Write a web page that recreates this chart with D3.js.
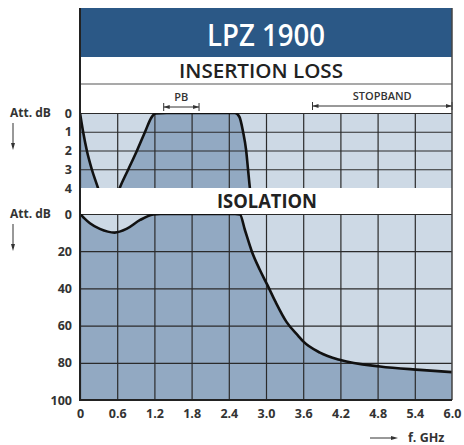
<!DOCTYPE html>
<html>
<head>
<meta charset="utf-8">
<script src="https://cdn.jsdelivr.net/npm/d3@7"></script>
<style>
  body { margin: 0; background: #fff; }
  text { font-family: "Open Sans", "DejaVu Sans", sans-serif; }
</style>
</head>
<body>
<div id="chart"></div>
<script>
// chart values
const freqTicks = [0, 0.6, 1.2, 1.8, 2.4, 3.0, 3.6, 4.2, 4.8, 5.4, 6.0];
const ilTicks = [0, 1, 2, 3, 4];
const isoTicks = [0, 20, 40, 60, 80, 100];

// insertion loss curve (dB), values past 4 are clipped
const ilFreq = [0, 0.05, 0.11, 0.19, 0.29, 0.4, 0.5, 0.64, 0.78, 0.92, 1.05, 1.15, 1.22, 1.4, 2.0, 2.5, 2.57, 2.63, 2.68, 2.71, 2.74, 2.8];
const ilLoss = [0, 1, 2, 3, 4, 5.2, 5.3, 4, 3, 2, 1, 0.25, 0.02, 0, 0, 0, 0.2, 1, 2, 3, 4, 5];

// isolation curve (dB)
const isoFreq = [0, 0.06, 0.16, 0.32, 0.56, 0.75, 0.97, 1.18, 1.3, 2.0, 2.5, 2.58, 2.66, 2.77, 2.9, 3.02, 3.15, 3.33, 3.52, 3.6, 3.87, 4.2, 4.84, 5.48, 6.0];
const isoLoss = [0, 2, 5, 8, 10, 8, 3.2, 0.3, 0, 0, 0, 0.3, 8.6, 20, 30, 38, 47, 58, 65.5, 68.5, 74.5, 78.5, 82, 83.8, 85];

const passBand = [1.35, 1.92];
const stopBand = [3.75, 6.0];

const W = 464, H = 445;
const left = 80, right = 452;

const x = d3.scaleLinear().domain([0, 6]).range([left, right]);
const yIL = d3.scaleLinear().domain([0, 4]).range([113, 188]);
const yIso = d3.scaleLinear().domain([0, 100]).range([214, 400]);

const svg = d3.select('#chart').append('svg')
  .attr('width', W).attr('height', H);

const dark = '#2b2b2b';
const lightFill = '#cdd9e5';
const darkFill = '#92a9c2';

// title bar
svg.append('rect').attr('x', left).attr('y', 8).attr('width', right - left).attr('height', 49)
  .attr('fill', '#2b5886');
svg.append('text').attr('x', (left + right) / 2).attr('y', 46)
  .attr('text-anchor', 'middle').attr('fill', '#fff')
  .attr('font-size', 31).attr('font-weight', 600)
  .attr('textLength', 118).attr('lengthAdjust', 'spacingAndGlyphs')
  .text('LPZ 1900');

svg.append('line').attr('x1', left).attr('x2', right).attr('y1', 84).attr('y2', 84)
  .attr('stroke', '#555').attr('stroke-width', 1.2);
svg.append('text').attr('x', 261).attr('y', 78)
  .attr('text-anchor', 'middle').attr('fill', '#222')
  .attr('font-size', 19).attr('font-weight', 600)
  .attr('textLength', 164).attr('lengthAdjust', 'spacingAndGlyphs')
  .text('INSERTION LOSS');

// band arrows
function bandArrow(range, yPos, label) {
  const g = svg.append('g');
  const x0 = x(range[0]), x1 = x(range[1]);
  g.append('line').attr('x1', x0).attr('x2', x1).attr('y1', yPos).attr('y2', yPos)
    .attr('stroke', '#333').attr('stroke-width', 1);
  [x0, x1].forEach((px, i) => {
    g.append('line').attr('x1', px).attr('x2', px).attr('y1', yPos - 4).attr('y2', yPos + 4)
      .attr('stroke', '#333').attr('stroke-width', 1);
    const dir = i === 0 ? 1 : -1;
    g.append('path')
      .attr('d', `M${px},${yPos} L${px + dir * 6},${yPos - 2} L${px + dir * 6},${yPos + 2} Z`)
      .attr('fill', '#333');
  });
  g.append('text').attr('x', (x0 + x1) / 2).attr('y', yPos - 6)
    .attr('text-anchor', 'middle').attr('fill', '#333')
    .attr('font-size', 11).attr('font-weight', 600)
    .text(label);
}
bandArrow(passBand, 107, 'PB');
bandArrow(stopBand, 106, 'STOPBAND');

// plot panels
function panel(yScale, ticks, freqs, vals, id) {
  const y0 = yScale.range()[0], y1 = yScale.range()[1];
  svg.append('clipPath').attr('id', id)
    .append('rect').attr('x', left).attr('y', y0).attr('width', right - left).attr('height', y1 - y0);

  const g = svg.append('g').attr('clip-path', `url(#${id})`);
  g.append('rect').attr('x', left).attr('y', y0).attr('width', right - left).attr('height', y1 - y0)
    .attr('fill', lightFill);

  const pts = freqs.map((f, i) => [f, vals[i]]);
  const area = d3.area()
    .x(d => x(d[0]))
    .y0(y1)
    .y1(d => yScale(d[1]))
    .curve(d3.curveMonotoneX);
  g.append('path').datum(pts).attr('d', area).attr('fill', darkFill);

  // grid
  g.append('g').attr('transform', `translate(0,${y0})`)
    .call(d3.axisBottom(x).tickValues(freqTicks).tickSize(y1 - y0).tickFormat(''))
    .call(s => s.select('.domain').remove())
    .selectAll('line').attr('stroke', dark).attr('stroke-width', 1.2);
  g.append('g').attr('transform', `translate(${left},0)`)
    .call(d3.axisRight(yScale).tickValues(ticks).tickSize(right - left).tickFormat(''))
    .call(s => s.select('.domain').remove())
    .selectAll('line').attr('stroke', dark).attr('stroke-width', 1.2);

  const line = d3.line().x(d => x(d[0])).y(d => yScale(d[1])).curve(d3.curveMonotoneX);
  g.append('path').datum(pts).attr('d', line)
    .attr('fill', 'none').attr('stroke', '#111').attr('stroke-width', 2.6)
    .attr('stroke-linejoin', 'round');
}
panel(yIL, ilTicks, ilFreq, ilLoss, 'clipIL');
panel(yIso, isoTicks, isoFreq, isoLoss, 'clipIso');

svg.append('text').attr('x', 267).attr('y', 208)
  .attr('text-anchor', 'middle').attr('fill', '#222')
  .attr('font-size', 20).attr('font-weight', 700)
  .attr('textLength', 100).attr('lengthAdjust', 'spacingAndGlyphs')
  .text('ISOLATION');

// frame lines
svg.append('line').attr('x1', right).attr('x2', right).attr('y1', 8).attr('y2', 400)
  .attr('stroke', '#444').attr('stroke-width', 1.5);
svg.append('line').attr('x1', left).attr('x2', left).attr('y1', 8).attr('y2', 401)
  .attr('stroke', '#222').attr('stroke-width', 2);
svg.append('line').attr('x1', left).attr('x2', right).attr('y1', 400).attr('y2', 400)
  .attr('stroke', '#222').attr('stroke-width', 2);

// axes labels
function styleAxis(s) {
  s.select('.domain').remove();
  s.selectAll('text').attr('fill', '#333').attr('font-size', 12.5).attr('font-weight', 700)
    .style('font-family', '"Open Sans", sans-serif');
}
svg.append('g').attr('transform', `translate(${left},0)`)
  .call(d3.axisLeft(yIL).tickValues(ilTicks).tickSize(0).tickPadding(8).tickFormat(d3.format('d')))
  .call(styleAxis);
svg.append('g').attr('transform', `translate(${left},0)`)
  .call(d3.axisLeft(yIso).tickValues(isoTicks).tickSize(0).tickPadding(8).tickFormat(d3.format('d')))
  .call(styleAxis);
svg.append('g').attr('transform', 'translate(0,400)')
  .call(d3.axisBottom(x).tickValues(freqTicks).tickSize(0).tickPadding(9)
    .tickFormat(d => d === 0 ? '0' : d.toFixed(1)))
  .call(styleAxis);

// "Att. dB" with arrows
function attLabel(yPos) {
  svg.append('text').attr('x', 10).attr('y', yPos)
    .attr('fill', '#333').attr('font-size', 12).attr('font-weight', 700)
    .text('Att. dB');
  svg.append('line').attr('x1', 13).attr('x2', 13).attr('y1', yPos + 6).attr('y2', yPos + 30)
    .attr('stroke', '#333').attr('stroke-width', 1);
  svg.append('path')
    .attr('d', `M13,${yPos + 33} L11,${yPos + 26} L15,${yPos + 26} Z`).attr('fill', '#333');
}
attLabel(117);
attLabel(218);

// f. GHz
svg.append('line').attr('x1', 370).attr('x2', 392).attr('y1', 438).attr('y2', 438)
  .attr('stroke', '#333').attr('stroke-width', 1);
svg.append('path').attr('d', 'M398,438 L391,436 L391,440 Z').attr('fill', '#333');
svg.append('text').attr('x', 408).attr('y', 442)
  .attr('fill', '#333').attr('font-size', 12.5).attr('font-weight', 700)
  .text('f. GHz');
</script>
</body>
</html>
